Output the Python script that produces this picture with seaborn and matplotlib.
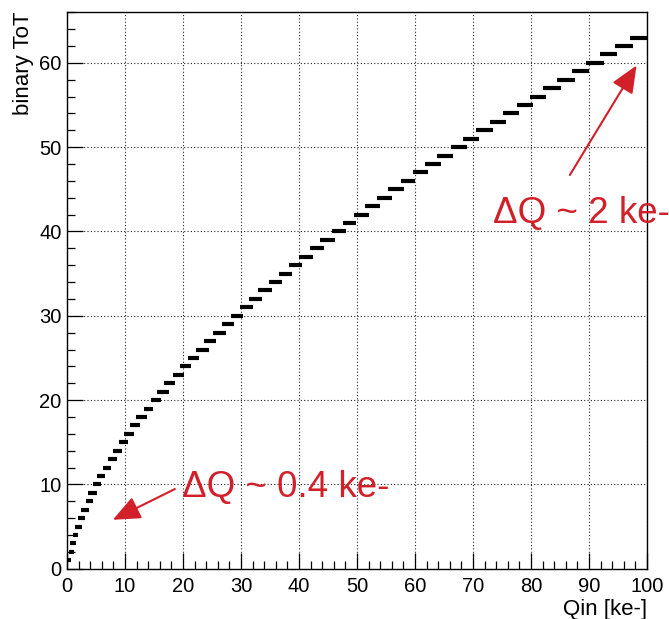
import matplotlib
matplotlib.use("Agg")
import matplotlib.pyplot as plt
from matplotlib.ticker import MultipleLocator
import numpy as np
import pandas as pd
import seaborn as sns

# ---- data ----
tot = list(range(1, 64))
q_lo = [0.0, 0.34, 0.5, 0.98, 1.38, 1.9, 2.47, 3.2, 3.7, 4.5,
        5.2, 6.15, 7.1, 7.9, 9.0, 9.9, 10.9, 11.95, 13.2, 14.5,
        15.6, 16.8, 18.2, 19.4, 20.9, 22.3, 23.7, 25.2, 26.7, 28.3,
        29.8, 31.4, 33.0, 34.8, 36.6, 38.2, 40.0, 41.9, 43.7, 45.7,
        47.5, 49.4, 51.4, 53.4, 55.3, 57.5, 59.6, 61.7, 63.8, 66.2,
        68.3, 70.6, 72.9, 75.2, 77.5, 79.8, 82.1, 84.5, 87.1, 89.5,
        91.9, 94.5, 97.0]
q_hi = [0.75, 1.2, 1.55, 1.9, 2.6, 3.1, 3.85, 4.4, 5.1, 5.8,
        6.6, 7.6, 8.6, 9.5, 10.5, 11.5, 12.6, 13.8, 14.9, 16.2,
        17.5, 18.7, 20.1, 21.4, 22.8, 24.4, 25.7, 27.4, 28.8, 30.4,
        32.0, 33.7, 35.3, 37.1, 38.8, 40.6, 42.4, 44.3, 46.2, 48.1,
        49.9, 52.0, 53.9, 56.0, 58.1, 60.0, 62.2, 64.4, 66.6, 69.0,
        71.1, 73.4, 75.7, 78.0, 80.3, 82.6, 85.2, 87.5, 90.0, 92.5,
        94.9, 97.6, 100.0]

x_label = "Qin [ke-]"
y_label = "binary ToT"
note_hi = "ΔQ ~ 2 ke-"
note_lo = "ΔQ ~ 0.4 ke-"

# ---- long-form table ----
df = pd.DataFrame({
    "Q": q_lo + q_hi,
    "ToT": tot + tot,
})

sns.set_theme(style="ticks")
plt.rcParams["font.family"] = ["Liberation Sans", "DejaVu Sans"]
plt.rcParams["text.color"] = "black"
plt.rcParams["axes.labelcolor"] = "black"
plt.rcParams["xtick.color"] = "black"
plt.rcParams["ytick.color"] = "black"

fig = plt.figure(figsize=(6.69, 6.19), dpi=100)
ax = fig.add_axes([67 / 669, 50.3 / 619, 580 / 669, 557 / 619])

sns.lineplot(data=df, x="Q", y="ToT", units="ToT", estimator=None,
             color="black", lw=3.0, sort=True, ax=ax,
             solid_capstyle="butt", legend=False)

ax.set_xlim(0, 100)
ax.set_ylim(0, 66.07)
ax.xaxis.set_major_locator(MultipleLocator(10))
ax.xaxis.set_minor_locator(MultipleLocator(2))
ax.yaxis.set_major_locator(MultipleLocator(10))
ax.yaxis.set_minor_locator(MultipleLocator(2))

ax.grid(True, which="major", color="#222222", lw=0.8,
        linestyle=(0, (1, 2)))
ax.set_axisbelow(True)

ax.tick_params(which="both", direction="in", width=0.9, color="black",
               labelsize=14.5, labelcolor="black")
ax.tick_params(axis="x", which="major", length=11.5, pad=6)
ax.tick_params(axis="y", which="major", length=11.5, pad=4)
ax.tick_params(which="minor", length=6)
for s in ax.spines.values():
    s.set_linewidth(1.0)
    s.set_color("black")

ax.set_xlabel(x_label, fontsize=16, loc="right", labelpad=2, color="black")
ax.set_ylabel(y_label, fontsize=16, loc="top", labelpad=4, color="black")

red = "#d2202a"
ax.annotate("", xy=(98.2, 59.7), xytext=(86.7, 46.7),
            arrowprops=dict(arrowstyle="-|>,head_length=1.4,head_width=0.6",
                            color=red, lw=1.5, shrinkA=0, shrinkB=0),
            annotation_clip=False)
ax.annotate("", xy=(7.9, 5.8), xytext=(18.6, 9.45),
            arrowprops=dict(arrowstyle="-|>,head_length=1.4,head_width=0.6",
                            color=red, lw=1.5, shrinkA=0, shrinkB=0),
            annotation_clip=False)
ax.text(73.5, 41.0, note_hi, color=red, fontsize=26.5, ha="left",
        va="baseline", clip_on=False)
ax.text(19.9, 8.54, note_lo, color=red, fontsize=26.5, ha="left",
        va="baseline", clip_on=False)

fig.savefig("out.png", dpi=100)
